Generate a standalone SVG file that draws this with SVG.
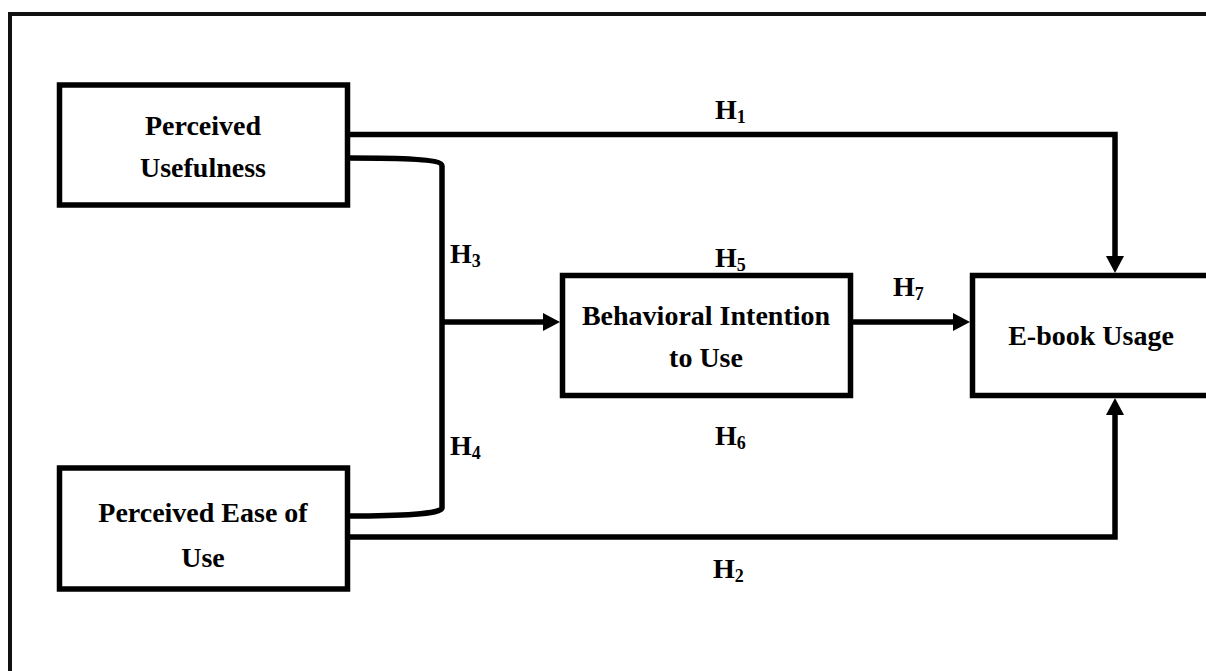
<svg xmlns="http://www.w3.org/2000/svg" width="1206" height="671" viewBox="0 0 1206 671">
<style>
.box{fill:#fff;stroke:#000;stroke-width:5.5}
.frame{fill:#fff;stroke:#111;stroke-width:4}
.lbl{font-family:"Liberation Serif","Times New Roman",serif;font-weight:bold;font-size:28px;fill:#000;text-anchor:middle}
.h{font-family:"Liberation Serif","Times New Roman",serif;font-weight:bold;font-size:28px;fill:#000}
.sub{font-size:18px}
.ln{fill:none;stroke:#000;stroke-width:5.5}
</style>
<defs>
<marker id="arr" markerUnits="userSpaceOnUse" markerWidth="18" markerHeight="20" refX="0" refY="9" orient="auto">
<path d="M0,0 L17,9 L0,18 Z" fill="#000"/>
</marker>
</defs>
<rect class="frame" x="10" y="14" width="1210" height="680"/>
<g id="connectors">
<path class="ln" d="M349,134.5 L1115,134.5 L1115,256" marker-end="url(#arr)"/>
<path class="ln" d="M349,537 L1115,537 L1115,415" marker-end="url(#arr)"/>
<path class="ln" d="M349,158 C400,158 442,159 442,166 L442,508 C442,514 400,516 349,516"/>
<path class="ln" d="M442,322 L543,322" marker-end="url(#arr)"/>
<path class="ln" d="M850,322 L953,322" marker-end="url(#arr)"/>
</g>
<g id="pu">
<rect class="box" x="59.5" y="85" width="288" height="120"/>
<text class="lbl" x="203" y="135">Perceived</text>
<text class="lbl" x="203" y="177">Usefulness</text>
</g>
<g id="peu">
<rect class="box" x="59.5" y="468" width="288" height="121"/>
<text class="lbl" x="203" y="522">Perceived Ease of</text>
<text class="lbl" x="203" y="567">Use</text>
</g>
<g id="bi">
<rect class="box" x="562.5" y="275.5" width="288" height="120"/>
<text class="lbl" x="706" y="325">Behavioral Intention</text>
<text class="lbl" x="706" y="367">to Use</text>
</g>
<g id="eu">
<rect class="box" x="972.5" y="275.5" width="260" height="120"/>
<text class="lbl" x="1091" y="345">E-book Usage</text>
</g>
<g id="labels">
<text class="h" x="715" y="119">H<tspan class="sub" dy="4">1</tspan></text>
<text class="h" x="713" y="578">H<tspan class="sub" dy="4">2</tspan></text>
<text class="h" x="450" y="263">H<tspan class="sub" dy="4">3</tspan></text>
<text class="h" x="450" y="455">H<tspan class="sub" dy="4">4</tspan></text>
<text class="h" x="715" y="267">H<tspan class="sub" dy="4">5</tspan></text>
<text class="h" x="715" y="445">H<tspan class="sub" dy="4">6</tspan></text>
<text class="h" x="893" y="296">H<tspan class="sub" dy="4">7</tspan></text>
</g>
</svg>
